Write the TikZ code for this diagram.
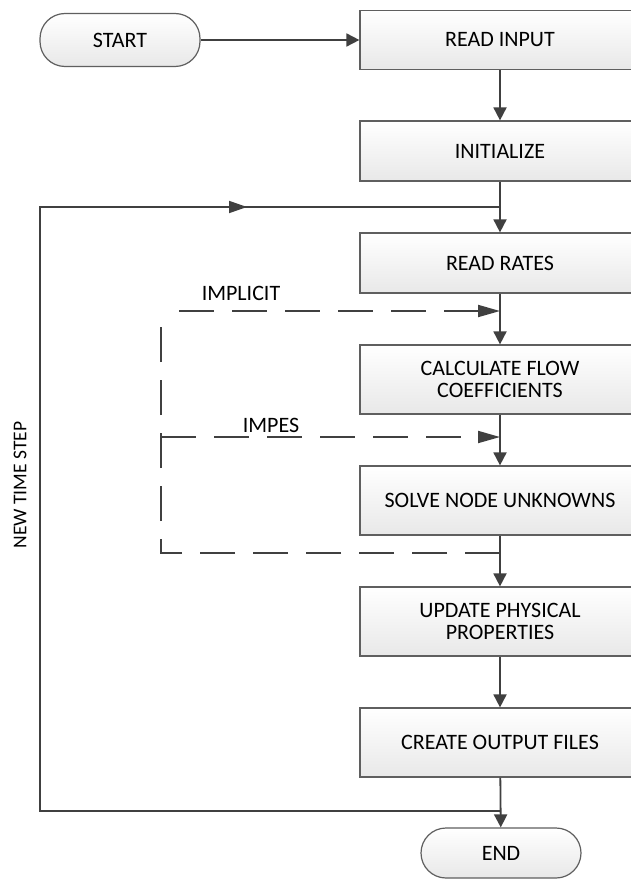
\documentclass[tikz,border=0pt]{standalone}
\usepackage{fontspec}
\setmainfont{Carlito}
\usetikzlibrary{arrows.meta}
\definecolor{lc}{RGB}{64,64,64}
\definecolor{bc}{RGB}{95,95,95}
\definecolor{boxbot}{RGB}{232,232,232}
\tikzset{
  proc/.style={draw=bc, line width=1.2pt, top color=white, bottom color=boxbot,
    minimum width=280pt, inner sep=0pt, align=center,
    font=\fontsize{22}{22.5}\selectfont},
  term/.style={draw=bc, line width=1.2pt, top color=white, bottom color=boxbot,
    rounded corners=25pt, minimum width=160pt, inner sep=0pt,
    font=\fontsize{22}{22.5}\selectfont},
  conn/.style={draw=lc, line width=1.8pt},
  arr/.style={conn, -{Triangle[length=13pt,width=13pt]}},
  looparr/.style={conn, -{Triangle[length=18pt,width=12pt]}},
  dashln/.style={draw=lc, line width=1.8pt, dash pattern=on 35pt off 18pt},
  dasharr/.style={dashln, -{Triangle[length=22pt,width=12pt]}},
  lbl/.style={inner sep=0pt, font=\fontsize{22}{22.5}\selectfont},
}
\begin{document}
\begin{tikzpicture}[x=1pt,y=-1pt]
\useasboundingbox (0,0) rectangle (631,880);
\fill[white] (0,0) rectangle (631,880);
% nodes
\node[term, minimum height=53pt] (start) at (120,40) {START};
\node[proc, minimum height=59pt] (readin) at (500,40) {READ INPUT};
\node[proc, minimum height=60pt] (init) at (500,151) {INITIALIZE};
\node[proc, minimum height=60pt] (rates) at (500,263) {READ RATES};
\node[proc, minimum height=69pt] (calc) at (500,379.5) {CALCULATE FLOW\\COEFFICIENTS};
\node[proc, minimum height=69pt] (solve) at (500,500.5) {SOLVE NODE UNKNOWNS};
\node[proc, minimum height=69pt] (update) at (500,621.5) {UPDATE PHYSICAL\\PROPERTIES};
\node[proc, minimum height=69pt] (create) at (500,742.5) {CREATE OUTPUT FILES};
\node[term, minimum height=50pt] (end) at (501,853) {END};
% labels
\node[lbl] (limplicit) at (241,293) {IMPLICIT};
\node[lbl] (limpes) at (271,425) {IMPES};
\node[lbl, rotate=90, font=\fontsize{19.5}{20}\selectfont] (lnts) at (20,485) {NEW TIME STEP};
% coordinates
\coordinate (lt) at (500,207);
\coordinate (ltl) at (40,207);
\coordinate (lah) at (247,207);
\coordinate (lb) at (500,811);
\coordinate (lbl) at (40,811);
\coordinate (imp) at (500,311);
\coordinate (impl) at (161,311);
\coordinate (ipe) at (500,437);
\coordinate (ipel) at (161,437);
\coordinate (db) at (500,553);
\coordinate (dbl) at (161,553);
% main flow
\draw[arr] (start) -- (readin);
\draw[arr] (readin) -- (init);
\draw[arr] (init) -- (rates);
\draw[arr] (rates) -- (calc);
\draw[arr] (calc) -- (solve);
\draw[arr] (solve) -- (update);
\draw[arr] (update) -- (create);
\draw[arr] (create) -- (end);
% time step loop
\draw[conn] (lb) -- (lbl) -- (ltl) -- (lt);
\draw[looparr] (ltl) -- (lah);
% dashed loops
\draw[dashln] (db) -- (dbl) -- (impl);
\draw[dasharr, dash phase=35pt] (impl) -- (imp);
\draw[dasharr] (ipel) -- (ipe);
\end{tikzpicture}
\end{document}
